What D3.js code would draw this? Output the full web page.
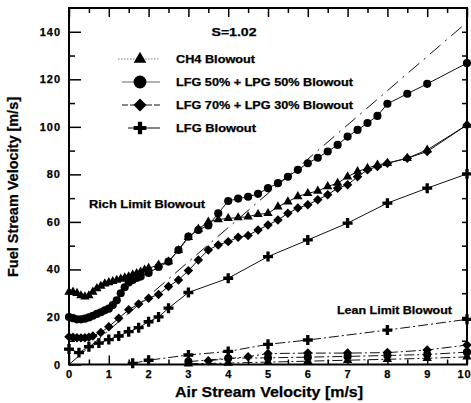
<!DOCTYPE html>
<html>
<head>
<meta charset="utf-8">
<script src="https://cdn.jsdelivr.net/npm/d3@7"></script>
<style>
  body { margin: 0; background: #fff; }
  text { font-family: "Liberation Sans", Arial, sans-serif; font-weight: bold; fill: #000; stroke: #000; stroke-width: 0.25px; }
</style>
</head>
<body>
<div id="chart"></div>
<script>
// rich limit blowout data (air velocity, fuel velocity)
var ch4X = [0, 0.1, 0.2, 0.3, 0.4, 0.5, 0.6, 0.7, 0.8, 0.9, 1.0, 1.1, 1.2, 1.3, 1.4, 1.5, 1.6, 1.7, 1.8, 1.9, 2.0, 2.25, 2.5, 2.75, 3.0, 3.25, 3.5, 3.75, 4.0, 4.25, 4.5, 4.75, 5.0, 5.25, 5.5, 5.75, 6.0, 6.25, 6.5, 6.75, 7.0, 7.25, 7.5, 7.75, 8.0, 8.5, 9.0, 10];
var ch4Y = [30.5, 30.5, 30, 29, 28.5, 29, 30.5, 32, 33, 34, 34.5, 35, 35.5, 36, 36.5, 37, 37.7, 38.3, 39, 39.8, 40.5, 41.9, 43.3, 48, 53.5, 57, 60, 61, 61.5, 61.8, 62.2, 63.2, 63.6, 66.4, 68.5, 70.7, 72, 73, 74.9, 76.3, 79, 81.2, 82.6, 84, 84.7, 86.8, 90.3, 100.8];

var mix50X = [0, 0.1, 0.2, 0.3, 0.4, 0.5, 0.6, 0.7, 0.8, 0.9, 1.0, 1.1, 1.2, 1.3, 1.4, 1.5, 1.6, 1.7, 1.8, 2.0, 2.25, 2.5, 2.75, 3.0, 3.25, 3.5, 3.75, 4.0, 4.25, 4.5, 4.75, 5.0, 5.25, 5.5, 5.75, 6.0, 6.25, 6.5, 6.75, 7.0, 7.25, 7.5, 7.75, 8.0, 8.5, 9.0, 10];
var mix50Y = [20, 19.5, 19, 19, 19.3, 19.8, 20.5, 21.3, 22, 22.8, 23.5, 25, 27, 30, 32.5, 34.5, 35.6, 36.4, 37, 38.5, 41, 43.3, 48.2, 53.8, 56.6, 58.5, 63.6, 68.8, 69.8, 70.6, 71.8, 74.2, 76.3, 79, 81.9, 84.7, 87, 89.6, 92.4, 95.9, 98.7, 101.6, 104.6, 109.7, 113.9, 118.1, 126.8];

var mix70X = [0, 0.1, 0.2, 0.3, 0.4, 0.5, 0.6, 0.8, 1.0, 1.25, 1.5, 1.75, 2.0, 2.25, 2.5, 2.75, 3.0, 3.25, 3.5, 3.75, 4.0, 4.25, 4.5, 4.75, 5.0, 5.25, 5.5, 5.75, 6.0, 6.25, 6.5, 6.75, 7.0, 7.25, 7.5, 7.75, 8.0, 8.5, 9.0, 10];
var mix70Y = [11.7, 11.5, 11.3, 11.2, 11.3, 11.5, 12, 13.5, 15.9, 19.5, 23, 25.5, 27.9, 29.5, 32.8, 35.6, 39.5, 44, 48.2, 50.3, 51.7, 53.5, 54.3, 56.6, 58.7, 60.8, 63.6, 65.8, 67.2, 69.3, 71.4, 74.2, 75.6, 79, 81.9, 83.3, 84.7, 86.8, 89.6, 100.8];

var lfgX = [0, 0.25, 0.5, 0.75, 1.0, 1.25, 1.5, 1.75, 2.0, 2.25, 2.5, 3.0, 4.0, 5.0, 6.0, 7.0, 8.0, 9.0, 10];
var lfgY = [6.5, 5, 7.5, 9, 10.5, 12, 13.8, 15.5, 18, 20, 23.7, 30.3, 36.3, 45.4, 52.4, 59.5, 67.9, 74.2, 80.2];

// lean limit blowout data
var leanLfgX = [1.6, 2, 3, 4, 5, 6, 8, 10];
var leanLfgY = [0.5, 1.8, 4, 5.5, 8.5, 10.3, 14.5, 19];
var leanMix70X = [3.5, 4.5, 5, 6, 7, 8, 9, 10];
var leanMix70Y = [1.6, 3.3, 4.6, 4.8, 4.8, 5.0, 6.1, 8.2];
var leanMix50X = [3, 4, 5, 6, 7, 8, 9, 10];
var leanMix50Y = [1.2, 2.6, 2.8, 3.1, 3.4, 3.8, 4.2, 5.2];
var leanCh4X = [3, 4, 5, 6, 7, 8, 9, 10];
var leanCh4Y = [0.3, 0.6, 1.0, 1.4, 1.8, 2.2, 2.6, 3.2];

// dash-dot reference line
var refX = [0, 10];
var refY = [0, 144];

var legendNames = ['CH4 Blowout', 'LFG 50% + LPG 50% Blowout', 'LFG 70% + LPG 30% Blowout', 'LFG Blowout'];
var xTicks = [0, 1, 2, 3, 4, 5, 6, 7, 8, 9, 10];
var yTicks = [0, 20, 40, 60, 80, 100, 120, 140];

var width = 471, height = 403;

var svg = d3.select('#chart')
  .append('svg')
  .attr('width', width)
  .attr('height', height);

var x = d3.scaleLinear().domain([0, 10]).range([69, 467]);
var y = d3.scaleLinear().domain([0, 150]).range([364.5, 8]);

function zip(xs, ys) {
  return xs.map(function (d, i) { return [d, ys[i]]; });
}

// marker shapes
var shapes = {
  tri: function (s) { return d3.symbol().type(d3.symbolTriangle).size(s)(); },
  circ: function (s) { return d3.symbol().type(d3.symbolCircle).size(s)(); },
  dia: function (s) {
    var r = Math.sqrt(s) * 0.75;
    return 'M0,' + (-r) + 'L' + r + ',0L0,' + r + 'L' + (-r) + ',0Z';
  },
  plus: function (s) { return d3.symbol().type(d3.symbolCross).size(s)(); }
};

var line = d3.line()
  .x(function (d) { return x(d[0]); })
  .y(function (d) { return y(d[1]); });

var plot = svg.append('g');

// reference line
plot.append('path')
  .datum(zip(refX, refY))
  .attr('d', line)
  .attr('fill', 'none')
  .attr('stroke', '#111')
  .attr('stroke-width', 1)
  .attr('stroke-dasharray', '14,6,2,6');

function drawSeries(pts, shape, size, dash) {
  plot.append('path')
    .datum(pts)
    .attr('d', line)
    .attr('fill', 'none')
    .attr('stroke', '#111')
    .attr('stroke-width', 1)
    .attr('stroke-dasharray', dash);
  plot.selectAll(null)
    .data(pts)
    .enter()
    .append('path')
    .attr('transform', function (d) { return 'translate(' + x(d[0]) + ',' + y(d[1]) + ')'; })
    .attr('d', shapes[shape](size))
    .attr('fill', '#000');
}

drawSeries(zip(ch4X, ch4Y), 'tri', 38, null);
drawSeries(zip(mix50X, mix50Y), 'circ', 52, null);
drawSeries(zip(mix70X, mix70Y), 'dia', 40, null);
drawSeries(zip(lfgX, lfgY), 'plus', 55, null);

drawSeries(zip(leanLfgX, leanLfgY), 'plus', 55, '10,3,2,3');
drawSeries(zip(leanMix70X, leanMix70Y), 'dia', 40, '10,3,2,3');
drawSeries(zip(leanMix50X, leanMix50Y), 'circ', 52, '10,3,2,3');
drawSeries(zip(leanCh4X, leanCh4Y), 'tri', 38, '10,3,2,3');

// axes, ticks inward
function styleAxis(g) {
  g.select('.domain').remove();
  g.selectAll('line').attr('stroke', '#000').attr('stroke-width', 1.5);
  g.selectAll('text')
    .attr('font-size', '11px')
    .attr('letter-spacing', '1px')
    .attr('fill', '#000');
}

svg.append('g')
  .attr('transform', 'translate(0,' + y(0) + ')')
  .call(d3.axisBottom(x).tickValues(d3.range(0.5, 10, 1)).tickSize(-5).tickFormat(''))
  .call(styleAxis);
var xAxisG = svg.append('g')
  .attr('transform', 'translate(0,' + y(0) + ')')
  .call(d3.axisBottom(x).tickValues(xTicks).tickSize(-9).tickPadding(6).tickFormat(d3.format('d')))
  .call(styleAxis);
// keep the last label inside the window
xAxisG.selectAll('.tick text')
  .filter(function (d) { return d === 10; })
  .attr('dx', '-3');

svg.append('g')
  .attr('transform', 'translate(0,' + y(150) + ')')
  .call(d3.axisTop(x).tickValues(d3.range(0.5, 10, 1)).tickSize(-5).tickFormat(''))
  .call(styleAxis);
svg.append('g')
  .attr('transform', 'translate(0,' + y(150) + ')')
  .call(d3.axisTop(x).tickValues(xTicks).tickSize(-9).tickFormat(''))
  .call(styleAxis);

svg.append('g')
  .attr('transform', 'translate(' + x(0) + ',0)')
  .call(d3.axisLeft(y).tickValues(d3.range(10, 150, 20)).tickSize(-6).tickFormat(''))
  .call(styleAxis);
svg.append('g')
  .attr('transform', 'translate(' + x(0) + ',0)')
  .call(d3.axisLeft(y).tickValues(yTicks).tickSize(-12).tickPadding(8).tickFormat(d3.format('d')))
  .call(styleAxis);

svg.append('g')
  .attr('transform', 'translate(' + x(10) + ',0)')
  .call(d3.axisRight(y).tickValues(d3.range(10, 150, 10)).tickSize(-5).tickFormat(''))
  .call(styleAxis);

// frame
svg.append('rect')
  .attr('x', x(0))
  .attr('y', y(150))
  .attr('width', x(10) - x(0))
  .attr('height', y(0) - y(150))
  .attr('fill', 'none')
  .attr('stroke', '#000')
  .attr('stroke-width', 2);

// text helper: fixed widths to follow the original lettering
function label(px, py, str, size, len, anchor) {
  return svg.append('text')
    .attr('x', px)
    .attr('y', py)
    .attr('text-anchor', anchor || 'start')
    .attr('font-size', size + 'px')
    .attr('textLength', len)
    .attr('lengthAdjust', 'spacingAndGlyphs')
    .text(str);
}

// axis titles
label(269, 397, 'Air Stream Velocity [m/s]', 15, 188, 'middle');
label(0, 0, 'Fuel Stream Velocity [m/s]', 14, 180, 'middle')
  .attr('transform', 'translate(18,187) rotate(-90)');

// annotations
label(234, 36, 'S=1.02', 11, 45, 'middle');
label(89, 208, 'Rich Limit Blowout', 10.5, 116);
label(337, 314, 'Lean Limit Blowout', 10.5, 115);

// legend
var legendShapes = ['tri', 'circ', 'dia', 'plus'];
var legendSizes = [70, 130, 75, 90];
var legendLines = [[118, 160, '1.5,1.5', '#777'], [122, 160, null, '#666'], [122, 162, '6,2', '#111'], [128, 160, null, '#111']];
var legendY = [59, 82, 105, 128];
var legendLen = [79, 177, 177, 80];

var legend = svg.append('g');
legendNames.forEach(function (name, i) {
  legend.append('line')
    .attr('x1', legendLines[i][0])
    .attr('x2', legendLines[i][1])
    .attr('y1', legendY[i])
    .attr('y2', legendY[i])
    .attr('stroke', legendLines[i][3])
    .attr('stroke-width', 1)
    .attr('stroke-dasharray', legendLines[i][2]);
  legend.append('path')
    .attr('transform', 'translate(140,' + legendY[i] + ')')
    .attr('d', shapes[legendShapes[i]](legendSizes[i]))
    .attr('fill', '#000');
  label(176, legendY[i] + 4, name, 10.5, legendLen[i]);
});
</script>
</body>
</html>
